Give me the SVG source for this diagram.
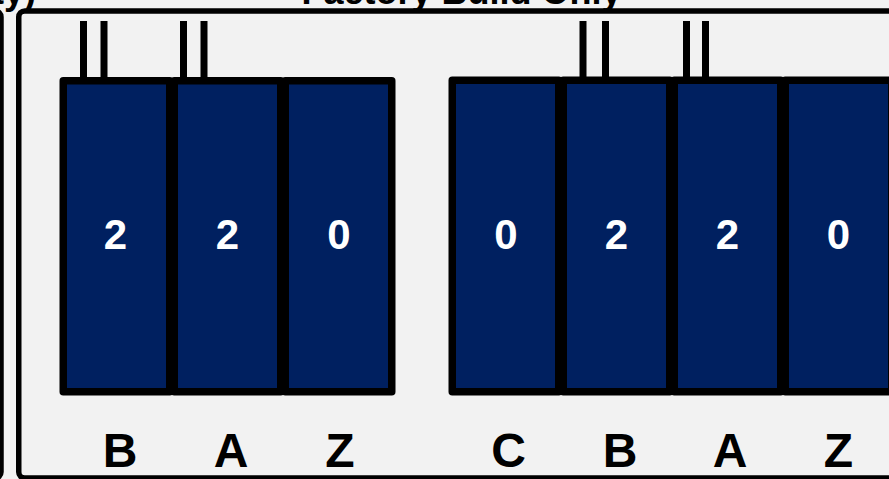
<svg xmlns="http://www.w3.org/2000/svg" width="889" height="479" viewBox="0 0 889 479">
  <style>
    .frame { fill: #f2f2f2; stroke: #000; stroke-width: 5.5; }
    .cell { fill: #002060; stroke: #000; stroke-width: 7.5; stroke-linejoin: round; }
    .num { font-family: "Liberation Sans", Arial, sans-serif; font-weight: bold; font-size: 42px; fill: #fff; text-anchor: middle; }
    .lbl { font-family: "Liberation Sans", Arial, sans-serif; font-weight: bold; font-size: 48px; fill: #000; text-anchor: middle; }
    .title { font-family: "Liberation Sans", Arial, sans-serif; font-weight: bold; font-size: 36px; fill: #000; }
    .pin { fill: #000; }
  </style>
  <rect x="0" y="0" width="889" height="479" fill="#f2f2f2"/>
  <g id="left-panel">
    <rect class="frame" x="-400" y="11" width="401" height="467" rx="6"/>
    <text class="title" x="36" y="4" text-anchor="end">ty)</text>
  </g>
  <g id="factory-panel">
    <rect class="frame" x="18.75" y="11" width="900" height="467" rx="6"/>
    <text class="title" x="461.5" y="4" text-anchor="middle">Factory Build Only</text>
  </g>
  <g id="connectors">
    <rect class="pin" x="80" y="21" width="7" height="58"/>
    <rect class="pin" x="100.5" y="21" width="7" height="58"/>
    <rect class="pin" x="180" y="21" width="7" height="58"/>
    <rect class="pin" x="200.5" y="21" width="7" height="58"/>
    <rect class="pin" x="579.5" y="21" width="7" height="58"/>
    <rect class="pin" x="602" y="21" width="7" height="58"/>
    <rect class="pin" x="683" y="21" width="7" height="58"/>
    <rect class="pin" x="702" y="21" width="7" height="58"/>
  </g>
  <g id="g1-cell-b">
    <rect class="cell" x="63.25" y="80.75" width="106.5" height="311"/>
    <text class="num" x="115.5" y="249">2</text>
    <text class="lbl" x="120" y="467">B</text>
  </g>
  <g id="g1-cell-a">
    <rect class="cell" x="174.25" y="80.75" width="106.5" height="311"/>
    <text class="num" x="227.5" y="249">2</text>
    <text class="lbl" x="231" y="467">A</text>
  </g>
  <g id="g1-cell-z">
    <rect class="cell" x="285.25" y="80.75" width="106.5" height="311"/>
    <text class="num" x="339" y="249">0</text>
    <text class="lbl" x="340" y="467">Z</text>
  </g>
  <g id="g2-cell-c">
    <rect class="cell" x="452.25" y="80.25" width="106.5" height="311.5"/>
    <text class="num" x="506" y="249">0</text>
    <text class="lbl" x="508.5" y="467">C</text>
  </g>
  <g id="g2-cell-b">
    <rect class="cell" x="563.25" y="80.25" width="106.5" height="311.5"/>
    <text class="num" x="616.5" y="249">2</text>
    <text class="lbl" x="620" y="467">B</text>
  </g>
  <g id="g2-cell-a">
    <rect class="cell" x="674.25" y="80.25" width="106.5" height="311.5"/>
    <text class="num" x="727.5" y="249">2</text>
    <text class="lbl" x="730" y="467">A</text>
  </g>
  <g id="g2-cell-z">
    <rect class="cell" x="785.25" y="80.25" width="106.5" height="311.5"/>
    <text class="num" x="838.5" y="249">0</text>
    <text class="lbl" x="838.5" y="467">Z</text>
  </g>
</svg>
